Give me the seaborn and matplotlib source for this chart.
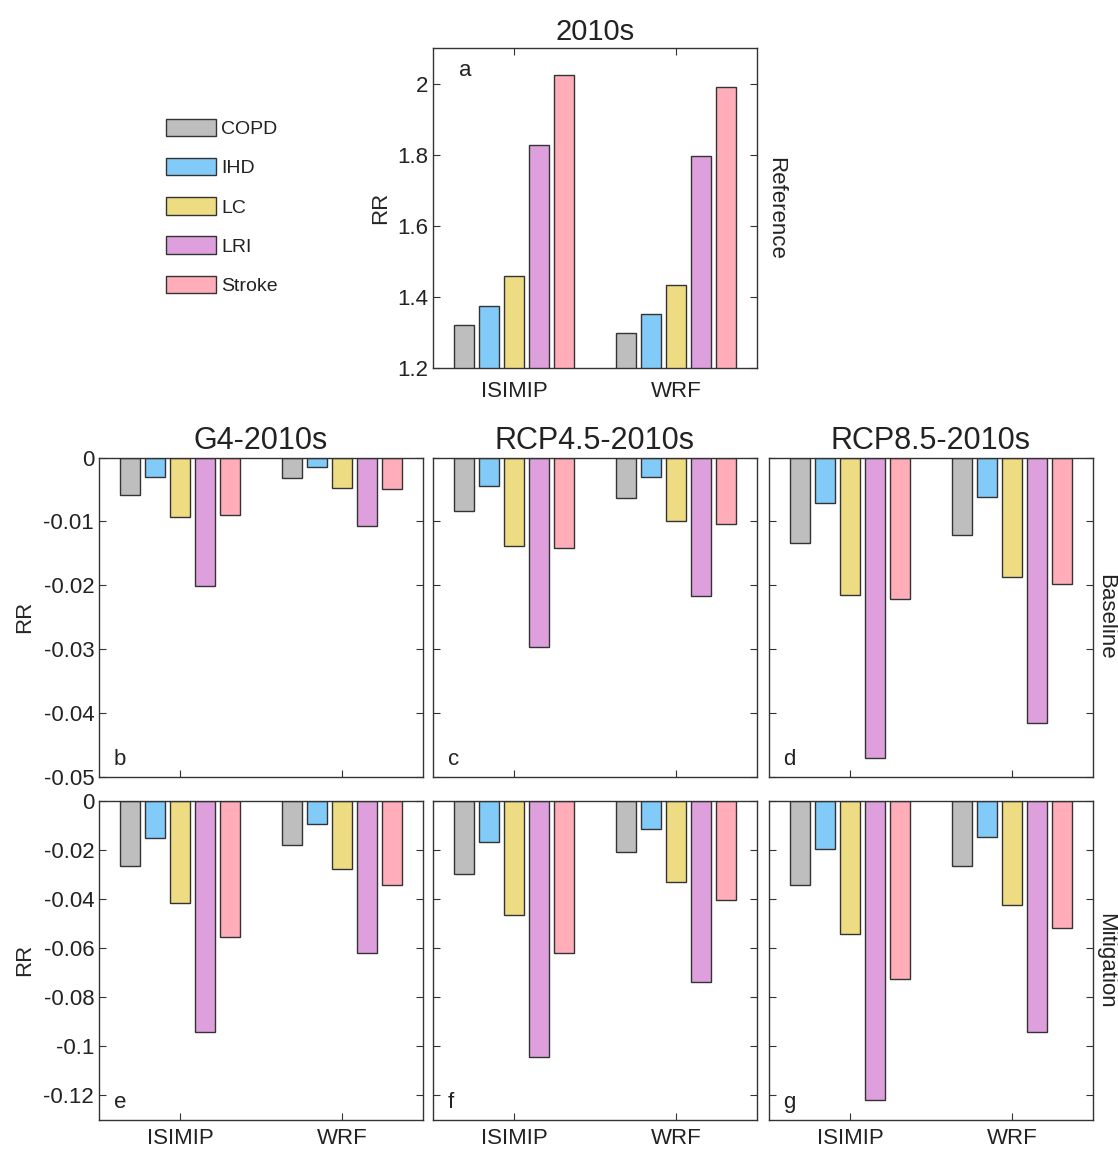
import matplotlib
matplotlib.use("Agg")
import matplotlib.pyplot as plt
from matplotlib.patches import Patch
import seaborn as sns
import pandas as pd

diseases = ["COPD", "IHD", "LC", "LRI", "Stroke"]
models = ["ISIMIP", "WRF"]
colors = ["#BEBEBE", "#82CAF8", "#EDDC82", "#DDA0DD", "#FFAEB9"]

# panel a: 2010s reference RR
ref_isimip = [1.321, 1.374, 1.459, 1.826, 2.024]
ref_wrf = [1.299, 1.351, 1.434, 1.795, 1.991]

# baseline row (b, c, d): change in RR
g4_base_isimip = [-0.0059, -0.0031, -0.0093, -0.0201, -0.0090]
g4_base_wrf = [-0.0032, -0.0015, -0.0048, -0.0107, -0.0050]
rcp45_base_isimip = [-0.0083, -0.0044, -0.0138, -0.0297, -0.0142]
rcp45_base_wrf = [-0.0064, -0.0031, -0.0099, -0.0216, -0.0104]
rcp85_base_isimip = [-0.0134, -0.0071, -0.0215, -0.0470, -0.0221]
rcp85_base_wrf = [-0.0121, -0.0062, -0.0187, -0.0416, -0.0198]

# mitigation row (e, f, g)
g4_mit_isimip = [-0.0265, -0.0152, -0.0418, -0.0941, -0.0557]
g4_mit_wrf = [-0.0179, -0.0096, -0.0278, -0.0620, -0.0344]
rcp45_mit_isimip = [-0.0299, -0.0168, -0.0466, -0.1044, -0.0620]
rcp45_mit_wrf = [-0.0209, -0.0117, -0.0330, -0.0737, -0.0406]
rcp85_mit_isimip = [-0.0345, -0.0195, -0.0544, -0.1219, -0.0726]
rcp85_mit_wrf = [-0.0268, -0.0150, -0.0423, -0.0941, -0.0520]


def make_df(isimip, wrf):
    rows = []
    for m, vals in zip(models, [isimip, wrf]):
        for d, v in zip(diseases, vals):
            rows.append({"model": m, "disease": d, "RR": v})
    return pd.DataFrame(rows)


sns.set_style("ticks")
plt.rcParams["font.family"] = ["Liberation Sans", "DejaVu Sans"]
plt.rcParams["xtick.direction"] = "in"
plt.rcParams["ytick.direction"] = "in"
plt.rcParams["axes.edgecolor"] = "#333333"
plt.rcParams["text.color"] = "#222222"
plt.rcParams["xtick.labelcolor"] = "#222222"
plt.rcParams["ytick.labelcolor"] = "#222222"

fig = plt.figure(figsize=(11.18, 11.49), dpi=100)

cols_left = [0.0886, 0.3873, 0.6878]
w = 0.2898
row_bottom = [0.3238, 0.0252]
h = 0.2780


def draw_panel(ax, isimip, wrf):
    df = make_df(isimip, wrf)
    sns.barplot(data=df, x="model", y="RR", hue="disease", hue_order=diseases,
                palette=colors, saturation=1, width=0.77, gap=0.2,
                edgecolor="#333333", linewidth=1.0, legend=False, ax=ax)
    ax.set_xlim(-0.5, 1.5)
    ax.set_xlabel("")
    ax.set_ylabel("")
    ax.tick_params(axis="both", which="both", top=True, right=True,
                   length=5, width=0.8, labelsize=16, color="#333333")
    ax.tick_params(axis="x", pad=6)
    for s in ax.spines.values():
        s.set_linewidth(1.0)


# panel a
ax_a = fig.add_axes([0.3873, 0.6797, w, 0.2785])
draw_panel(ax_a, ref_isimip, ref_wrf)
ax_a.set_ylim(1.2, 2.1)
ax_a.set_yticks([1.2, 1.4, 1.6, 1.8, 2.0])
ax_a.set_yticklabels(["1.2", "1.4", "1.6", "1.8", "2"])
ax_a.tick_params(axis="x", pad=9)
ax_a.set_ylabel("RR", fontsize=16, labelpad=4)
ax_a.set_title("2010s", fontsize=21, pad=6)
ax_a.text(0.08, 0.93, "a", transform=ax_a.transAxes, fontsize=16, va="center")
ax_a.text(1.056, 0.5, "Reference", transform=ax_a.transAxes, rotation=-90,
          fontsize=16, va="center", ha="center")

handles = [Patch(facecolor=c, edgecolor="#333333", linewidth=1.0) for c in colors]
ax_a.legend(handles, diseases, loc="upper left", bbox_to_anchor=(0.1395, 0.905),
            bbox_transform=fig.transFigure, frameon=False, borderpad=0,
            fontsize=14, handlelength=2.6, handleheight=1.0,
            labelspacing=1.02, handletextpad=0.25)

titles = ["G4-2010s", "RCP4.5-2010s", "RCP8.5-2010s"]
base_data = [(g4_base_isimip, g4_base_wrf), (rcp45_base_isimip, rcp45_base_wrf),
             (rcp85_base_isimip, rcp85_base_wrf)]
mit_data = [(g4_mit_isimip, g4_mit_wrf), (rcp45_mit_isimip, rcp45_mit_wrf),
            (rcp85_mit_isimip, rcp85_mit_wrf)]
base_letters = ["b", "c", "d"]
mit_letters = ["e", "f", "g"]

for i in range(3):
    # baseline row
    ax = fig.add_axes([cols_left[i], row_bottom[0], w, h])
    draw_panel(ax, *base_data[i])
    ax.set_ylim(-0.05, 0)
    ax.set_yticks([-0.05, -0.04, -0.03, -0.02, -0.01, 0])
    ax.set_xticklabels([])
    ax.set_title(titles[i], fontsize=22, pad=6)
    ax.text(0.045, 0.055, base_letters[i], transform=ax.transAxes,
            fontsize=16, va="center")
    if i == 0:
        ax.set_yticklabels(["-0.05", "-0.04", "-0.03", "-0.02", "-0.01", "0"])
        ax.set_ylabel("RR", fontsize=16, labelpad=6)
    else:
        ax.set_yticklabels([])
    if i == 2:
        ax.text(1.04, 0.5, "Baseline", transform=ax.transAxes, rotation=-90,
                fontsize=16, va="center", ha="center")

    # mitigation row
    ax = fig.add_axes([cols_left[i], row_bottom[1], w, h])
    draw_panel(ax, *mit_data[i])
    ax.set_ylim(-0.13, 0)
    ax.set_yticks([-0.12, -0.1, -0.08, -0.06, -0.04, -0.02, 0])
    ax.text(0.045, 0.055, mit_letters[i], transform=ax.transAxes,
            fontsize=16, va="center")
    if i == 0:
        ax.set_yticklabels(["-0.12", "-0.1", "-0.08", "-0.06", "-0.04", "-0.02", "0"])
        ax.set_ylabel("RR", fontsize=16, labelpad=6)
    else:
        ax.set_yticklabels([])
    if i == 2:
        ax.text(1.04, 0.5, "Mitigation", transform=ax.transAxes, rotation=-90,
                fontsize=16, va="center", ha="center")

fig.savefig("out.png", dpi=100)
